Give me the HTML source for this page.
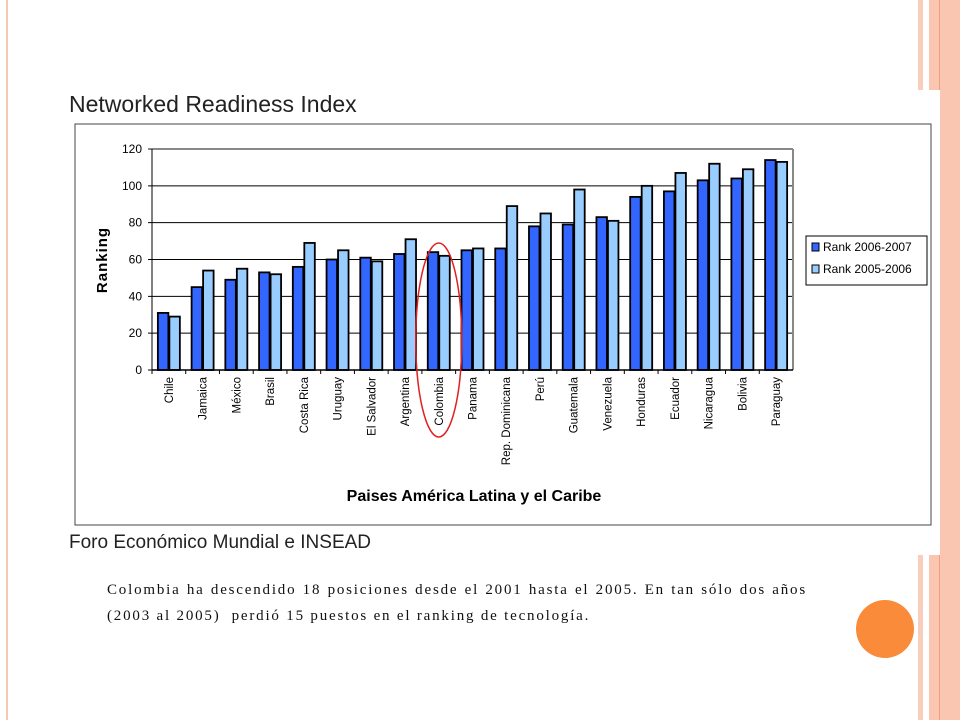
<!DOCTYPE html>
<html><head><meta charset="utf-8"><style>
body{margin:0;width:960px;height:720px;position:relative;background:#fff;overflow:hidden;font-family:"Liberation Sans",sans-serif}
.abs{position:absolute}
</style></head><body>
<div class="abs" style="left:6px;top:0;width:2px;height:720px;background:#f7c6b4"></div>
<div class="abs" style="left:918px;top:0;width:5px;height:720px;background:#f9cdbb"></div>
<div class="abs" style="left:929px;top:0;width:31px;height:720px;background:#fbc6b1"></div>
<div class="abs" style="left:939px;top:0;width:1px;height:720px;background:#f0a07a"></div>
<div class="abs" style="left:60px;top:90px;width:880px;height:465px;background:#fff"></div>
<div class="abs" style="left:69px;top:91px;font-size:23px;color:#222">Networked Readiness Index</div>
<div class="abs" style="left:69px;top:532px;font-size:19px;color:#222">Foro Económico Mundial e INSEAD</div>
<div class="abs" style="left:107px;top:577px;width:700px;font-family:'Liberation Serif',serif;font-size:15px;line-height:26px;letter-spacing:1.8px;color:#111;text-align:justify;text-align-last:justify;white-space:nowrap">Colombia ha descendido 18 posiciones desde el 2001 hasta el 2005. En tan sólo dos años</div>
<div class="abs" style="left:107px;top:603px;font-family:'Liberation Serif',serif;font-size:15px;line-height:26px;letter-spacing:1.8px;color:#111;white-space:nowrap">(2003 al 2005)&nbsp; perdió 15 puestos en el ranking de tecnología.</div>
<div class="abs" style="left:856px;top:600px;width:58px;height:58px;border-radius:50%;background:#f98b3a"></div>
<svg class="abs" style="left:0;top:0" width="960" height="720" id="chart">
<rect x="75" y="124" width="856" height="401" fill="none" stroke="#444" stroke-width="1"/>
</svg>
<script>
const categories=["Chile","Jamaica","México","Brasil","Costa Rica","Uruguay","El Salvador","Argentina","Colombia","Panama","Rep. Dominicana","Perú","Guatemala","Venezuela","Honduras","Ecuador","Nicaragua","Bolivia","Paraguay"];
const rank2006=[31,45,49,53,56,60,61,63,64,65,66,78,79,83,94,97,103,104,114];
const rank2005=[29,54,55,52,69,65,59,71,62,66,89,85,98,81,100,107,112,109,113];
const yTicks=[0,20,40,60,80,100,120];
const NS="http://www.w3.org/2000/svg";
const svg=document.getElementById('chart');
const x0=152,x1=793,y0=370,yTop=149,yMax=120;
const band=(x1-x0)/categories.length;
const yS=v=>y0-(v/yMax)*(y0-yTop);
function mk(t,a){const e=document.createElementNS(NS,t);for(const k in a)e.setAttribute(k,a[k]);svg.appendChild(e);return e;}
yTicks.forEach(v=>{
 const l=mk('line',{x1:x0-4,x2:x1,y1:yS(v),y2:yS(v),stroke:v===120?'#888':'#000','stroke-width':v===120?2:1});
 
 
 const t=mk('text',{x:x0-10,y:yS(v)+4,'text-anchor':'end','font-size':12,fill:'#000'});
 t.textContent=v;
 
 
});
const rb=mk('line',{x1:x1,x2:x1,y1:yTop,y2:y0,stroke:'#888','stroke-width':2});


const ax=mk('line',{x1:x0,x2:x0,y1:yTop,y2:y0,stroke:'#000','stroke-width':1});


categories.forEach((c,i)=>{
 const bx=x0+i*band;
 const tk=mk('line',{x1:bx,x2:bx,y1:y0,y2:y0+4,stroke:'#000'});
 
 
 const bw=10.5, gx=bx+band/2;
 const b1=mk('rect',{x:gx-bw-0.5,y:yS(rank2006[i]),width:bw,height:y0-yS(rank2006[i]),fill:'#3366ff',stroke:'#000','stroke-width':1.8});
 
 
 const b2=mk('rect',{x:gx+0.5,y:yS(rank2005[i]),width:bw,height:y0-yS(rank2005[i]),fill:'#99ccff',stroke:'#000','stroke-width':1.8});
 
 
 const t=mk('text',{x:0,y:0,'text-anchor':'end','font-size':11.5,fill:'#000',transform:`translate(${gx+4},${y0+7}) rotate(-90)`});
 t.textContent=c;
 
 
});
const xa=mk('line',{x1:x0,x2:x1,y1:y0,y2:y0,stroke:'#000','stroke-width':1.5});


const ci=categories.indexOf('Colombia');
const el=mk('ellipse',{cx:x0+(ci+0.5)*band,cy:340,rx:23,ry:97,fill:'none',stroke:'#e02020','stroke-width':1.5});


const yt=mk('text',{x:0,y:0,'text-anchor':'middle','font-size':15,'font-weight':'bold',fill:'#000','letter-spacing':1,transform:'translate(107,260) rotate(-90)'});
yt.textContent='Ranking';


const xt=mk('text',{x:474,y:501,'text-anchor':'middle','font-size':16,'font-weight':'bold',fill:'#000'});
xt.textContent='Paises América Latina y el Caribe';


const lg=mk('rect',{x:806,y:236,width:121,height:49,fill:'#fff',stroke:'#000'});


[['Rank 2006-2007','#3366ff'],['Rank 2005-2006','#99ccff']].forEach((d,i)=>{
 const s=mk('rect',{x:812,y:243+i*22,width:7,height:8,fill:d[1],stroke:'#000'});
 
 
 const t=mk('text',{x:823,y:251+i*22,'font-size':12,fill:'#000'});
 t.textContent=d[0];
 
 
});
</script>
</body></html>
